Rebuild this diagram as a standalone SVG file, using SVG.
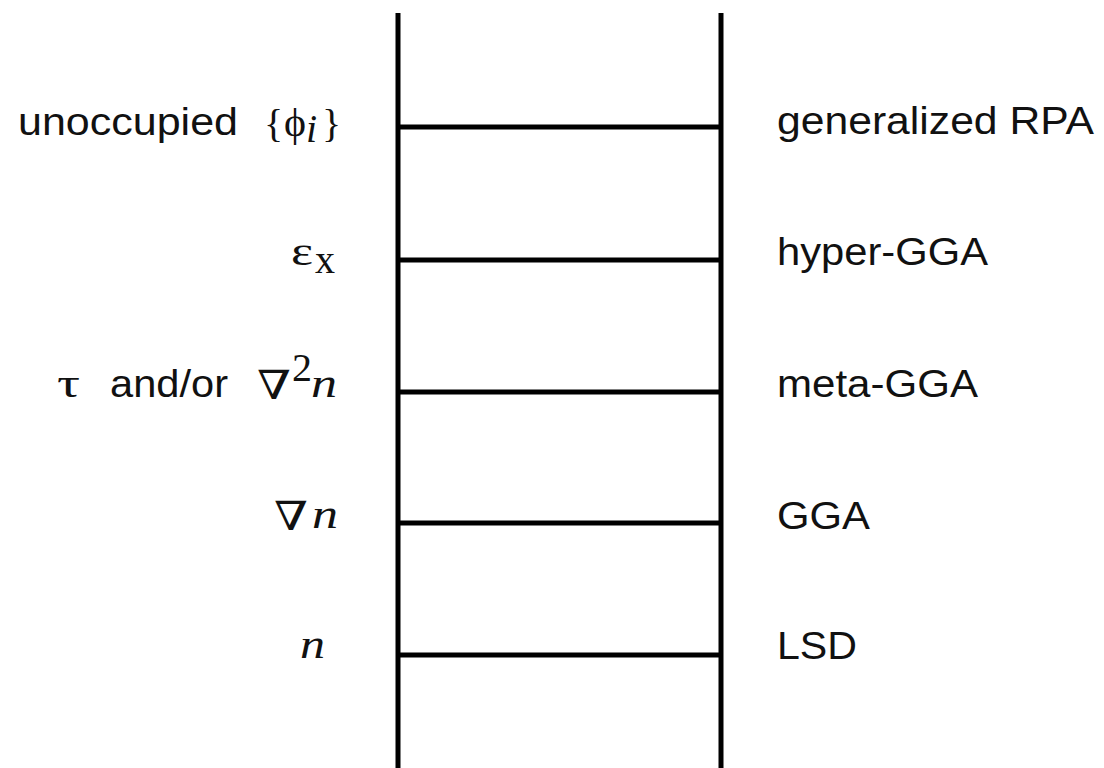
<svg xmlns="http://www.w3.org/2000/svg" width="1104" height="768" viewBox="0 0 1104 768">
<style>
.sans{font-family:"Liberation Sans",Arial,sans-serif;font-size:38px;fill:#111}
.ser{font-family:"Liberation Serif","DejaVu Serif",serif;font-size:40px;fill:#111}
.it{font-style:italic}
.rail{stroke:#000;stroke-width:5;fill:none}
.rung{stroke:#000;stroke-width:5;fill:none}
</style>
<rect width="1104" height="768" fill="#fff"/>
<g id="ladder">
<line class="rail" x1="398" y1="13" x2="398" y2="768"/>
<line class="rail" x1="721" y1="13" x2="721" y2="768"/>
</g>
<g id="connectors">
<line class="rung" x1="398" y1="127" x2="721" y2="127"/>
<line class="rung" x1="398" y1="260" x2="721" y2="260"/>
<line class="rung" x1="398" y1="392" x2="721" y2="392"/>
<line class="rung" x1="398" y1="523" x2="721" y2="523"/>
<line class="rung" x1="398" y1="655" x2="721" y2="655"/>
</g>
<g id="rung5">
<text class="sans" x="18" y="135" textLength="220" lengthAdjust="spacingAndGlyphs">unoccupied</text>
<text class="ser" x="264" y="137" font-size="46">{</text>
<text class="ser" x="284" y="136" font-size="40" textLength="22" lengthAdjust="spacingAndGlyphs">ϕ</text>
<text class="ser it" x="306" y="142" font-size="24">i</text>
<text class="ser" x="322" y="137" font-size="46">}</text>
<text class="sans" x="777" y="134" textLength="317" lengthAdjust="spacingAndGlyphs">generalized RPA</text>
</g>
<g id="rung4">
<text class="ser" x="291" y="265" font-size="44" textLength="22" lengthAdjust="spacingAndGlyphs">ε</text>
<text class="ser" x="315" y="273" font-size="24">x</text>
<text class="sans" x="777" y="265" textLength="211" lengthAdjust="spacingAndGlyphs">hyper-GGA</text>
</g>
<g id="rung3">
<text class="ser" x="57" y="397" font-size="46" textLength="23" lengthAdjust="spacingAndGlyphs">τ</text>
<text class="sans" x="110" y="397" textLength="118" lengthAdjust="spacingAndGlyphs">and/or</text>
<text class="ser" x="257" y="399" font-size="42" textLength="34" lengthAdjust="spacingAndGlyphs">∇</text>
<text class="ser" x="292" y="381" font-size="26">2</text>
<text class="ser it" x="311" y="397" font-size="44" textLength="26" lengthAdjust="spacingAndGlyphs">n</text>
<text class="sans" x="777" y="397" textLength="201" lengthAdjust="spacingAndGlyphs">meta-GGA</text>
</g>
<g id="rung2">
<text class="ser" x="274" y="530" font-size="42" textLength="34" lengthAdjust="spacingAndGlyphs">∇</text>
<text class="ser it" x="312" y="528" font-size="44" textLength="26" lengthAdjust="spacingAndGlyphs">n</text>
<text class="sans" x="777" y="529" textLength="93" lengthAdjust="spacingAndGlyphs">GGA</text>
</g>
<g id="rung1">
<text class="ser it" x="300" y="658" font-size="44" textLength="25" lengthAdjust="spacingAndGlyphs">n</text>
<text class="sans" x="777" y="659" textLength="80" lengthAdjust="spacingAndGlyphs">LSD</text>
</g>
</svg>
